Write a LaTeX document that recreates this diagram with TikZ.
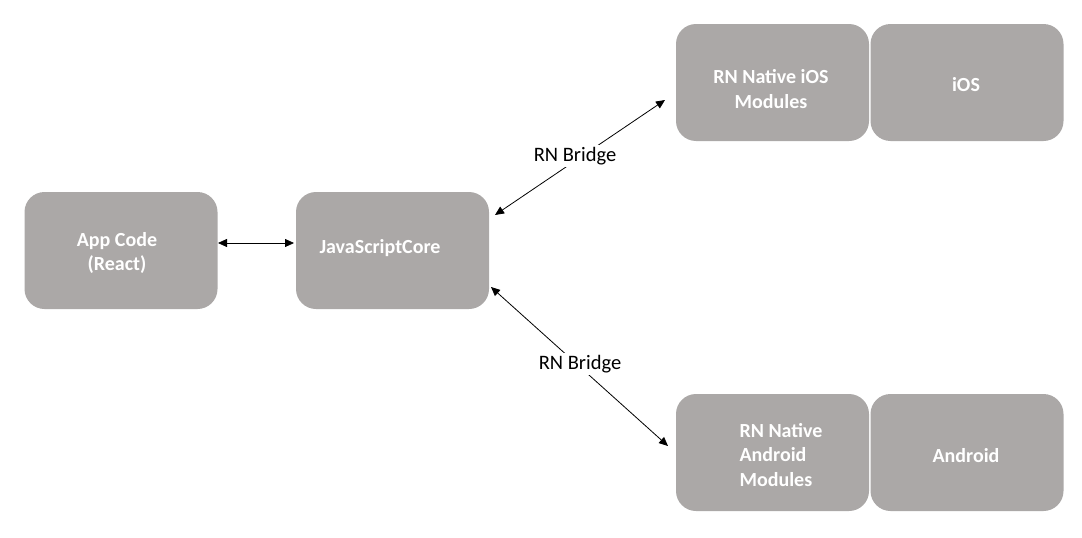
\documentclass[tikz,border=0pt]{standalone}
\usepackage{fontspec}
\setmainfont{Carlito}
\usetikzlibrary{arrows.meta}
\definecolor{boxgray}{RGB}{171,168,167}
\tikzset{
  box/.style={fill=boxgray, draw=none, rounded corners=20pt, minimum width=193pt, minimum height=117pt, inner sep=0pt},
  boxtext/.style={text=white, font=\fontsize{20}{24.5}\selectfont\bfseries, align=center},
  conn/.style={{Triangle[length=9pt,width=8pt]}-{Triangle[length=9pt,width=8pt]}, line width=0.8pt, black},
  lbl/.style={font=\fontsize{20.5}{24}\selectfont, fill=white, inner sep=2pt}
}
\begin{document}
\begin{tikzpicture}[x=1pt,y=1pt]
\useasboundingbox (0,0) rectangle (1082,-538);
\node[box] (app) at (121,-250.5) {};
\node[box] (jsc) at (392.5,-250.5) {};
\node[box] (iosmod) at (772.5,-82.5) {};
\node[box] (ios) at (967,-82.5) {};
\node[box] (andmod) at (772.5,-452.5) {};
\node[box] (and) at (967,-452.5) {};
\node[boxtext] (tapp) at (117,-253) {App Code\\(React)};
\node[boxtext] (tjsc) at (380,-248) {JavaScriptCore};
\node[boxtext] (tiosmod) at (771,-89) {RN Native iOS\\Modules};
\node[boxtext] (tios) at (966,-85) {iOS};
\node[boxtext, align=left] (tandmod) at (781,-455) {RN Native\\Android\\Modules};
\node[boxtext] (tand) at (966,-456) {Android};
\coordinate (a1) at (218,-243);
\coordinate (a2) at (294,-243);
\coordinate (u1) at (495,-215);
\coordinate (u2) at (665,-100);
\coordinate (l1) at (491,-287);
\coordinate (l2) at (668,-446);
\draw[conn] (a1) -- (a2);
\draw[conn] (u1) -- (u2);
\draw[conn] (l1) -- (l2);
\node[lbl] (b1) at (575,-156) {RN Bridge};
\node[lbl] (b2) at (580,-364) {RN Bridge};
\end{tikzpicture}
\end{document}
